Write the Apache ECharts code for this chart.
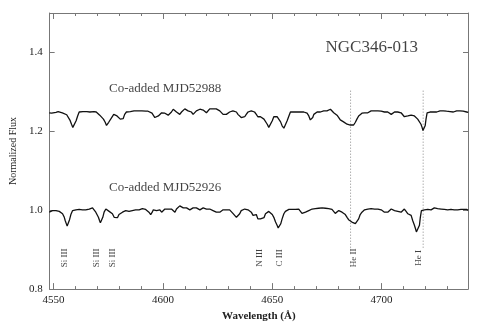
<!DOCTYPE html>
<html>
<head>
<meta charset="utf-8">
<script src="https://cdn.jsdelivr.net/npm/echarts@6/dist/echarts.min.js"></script>
<style>
  html, body { margin: 0; padding: 0; background: #fff; }
  #chart { width: 491px; height: 327px; }
</style>
</head>
<body>
<div id="chart"></div>
<script>
// spectrum: [wavelength (A), normalized flux]
var topSpectrum = [
  [4548.0,1.247],[4549.1,1.246],[4550.0,1.247],[4551.1,1.248],[4552.1,1.250],[4553.0,1.253],[4554.0,1.247],
  [4554.9,1.245],[4556.0,1.242],[4556.8,1.237],[4557.6,1.227],[4558.2,1.218],[4558.8,1.210],[4559.3,1.208],
  [4559.7,1.214],[4560.3,1.227],[4561.0,1.239],[4561.7,1.249],[4562.5,1.252],[4563.4,1.250],[4564.3,1.252],
  [4565.2,1.250],[4565.8,1.253],[4566.6,1.249],[4567.5,1.251],[4568.5,1.250],[4569.5,1.249],[4570.2,1.245],
  [4571.1,1.241],[4572.0,1.236],[4572.8,1.231],[4573.6,1.223],[4574.2,1.215],[4574.6,1.216],[4575.2,1.223],
  [4576.0,1.228],[4576.7,1.236],[4577.5,1.243],[4578.3,1.243],[4579.0,1.239],[4579.8,1.237],[4580.5,1.231],
  [4581.2,1.227],[4581.8,1.232],[4582.5,1.243],[4583.3,1.249],[4584.2,1.252],[4585.1,1.250],[4585.9,1.254],
  [4586.8,1.252],[4587.7,1.253],[4588.6,1.252],[4589.5,1.254],[4590.4,1.252],[4591.3,1.252],[4592.2,1.251],
  [4593.2,1.251],[4594.1,1.249],[4595.0,1.246],
  [4595.6,1.241],[4596.3,1.235],[4597.1,1.233],[4597.9,1.239],[4598.6,1.243],[4599.4,1.247],[4600.1,1.243],
  [4600.9,1.246],[4601.7,1.242],[4602.4,1.241],[4603.2,1.246],[4603.9,1.249],[4604.7,1.256],[4605.5,1.252],
  [4606.2,1.249],[4607.0,1.247],[4607.7,1.243],[4608.5,1.249],[4609.3,1.252],[4610.0,1.257],[4610.8,1.254],
  [4611.5,1.252],[4612.3,1.254],[4613.0,1.249],[4613.8,1.243],[4614.6,1.247],[4615.3,1.252],[4616.1,1.249],
  [4616.9,1.256],[4617.6,1.257],[4618.4,1.254],[4619.1,1.252],[4619.9,1.247],[4620.6,1.252],[4621.4,1.257],
  [4622.2,1.254],[4622.9,1.257],[4623.7,1.256],[4624.4,1.257],[4625.2,1.254],[4626.0,1.252],[4626.7,1.247],
  [4627.5,1.243],[4628.2,1.239],[4629.0,1.243],[4629.8,1.247],[4630.5,1.249],[4631.3,1.247],[4632.0,1.252],
  [4632.8,1.254],[4633.6,1.249],[4634.3,1.243],[4635.1,1.239],[4635.8,1.235],[4636.6,1.231],[4637.4,1.237],
  [4638.1,1.243],[4638.9,1.249],[4639.6,1.254],[4640.4,1.252],[4641.2,1.247],[4641.9,1.249],[4642.7,1.243],
  [4643.4,1.237],[4644.2,1.235],
  [4644.6,1.237],[4645.4,1.235],[4646.2,1.231],[4646.9,1.227],[4647.7,1.218],[4648.4,1.210],[4649.2,1.214],
  [4650.0,1.227],[4650.7,1.237],[4651.5,1.241],[4652.2,1.237],[4653.0,1.232],[4653.8,1.224],[4654.5,1.214],
  [4655.3,1.208],[4656.0,1.213],[4656.8,1.227],[4657.6,1.239],[4658.3,1.249],[4659.1,1.252],[4659.8,1.249],
  [4660.6,1.252],[4661.4,1.249],[4662.1,1.251],[4662.9,1.249],[4663.6,1.252],[4664.4,1.249],[4665.2,1.247],
  [4665.9,1.246],[4666.7,1.239],[4667.4,1.229],[4667.9,1.227],[4668.5,1.235],[4669.0,1.243],[4669.7,1.246],
  [4670.5,1.249],[4671.2,1.252],[4672.0,1.249],[4672.8,1.252],[4673.5,1.252],[4674.3,1.249],[4675.0,1.252],
  [4675.8,1.254],[4676.6,1.256],[4677.3,1.252],[4678.1,1.247],[4678.8,1.243],[4679.6,1.241],[4680.4,1.235],
  [4681.1,1.229],[4681.9,1.224],[4682.6,1.224],[4683.4,1.223],[4684.2,1.218],[4684.9,1.214],[4685.7,1.216],
  [4686.4,1.213],[4687.2,1.216],[4688.0,1.223],[4688.7,1.231],[4689.5,1.239],[4690.2,1.243],[4691.0,1.246],
  [4691.8,1.243],
  [4692.2,1.247],[4693.0,1.249],[4693.7,1.247],[4694.5,1.251],[4695.2,1.252],[4696.0,1.249],[4696.8,1.252],
  [4697.5,1.249],[4698.3,1.252],[4699.0,1.249],[4699.8,1.251],[4700.6,1.247],[4701.3,1.249],[4702.1,1.246],
  [4702.8,1.249],[4703.6,1.247],[4704.4,1.243],[4705.1,1.246],[4705.9,1.249],[4706.6,1.247],[4707.4,1.249],
  [4708.2,1.246],[4708.9,1.247],[4709.7,1.243],[4710.4,1.237],[4711.2,1.235],[4712.0,1.239],[4712.7,1.237],
  [4713.5,1.241],[4714.2,1.237],[4715.0,1.239],[4715.8,1.235],[4716.5,1.231],[4717.3,1.227],[4718.0,1.218],
  [4718.5,1.210],[4718.9,1.202],[4719.4,1.206],[4719.9,1.214],[4720.3,1.231],[4720.8,1.247],[4721.4,1.252],
  [4722.1,1.249],[4722.9,1.251],[4723.7,1.249],[4724.4,1.252],[4725.2,1.249],[4725.9,1.250],[4726.7,1.252],
  [4727.5,1.256],[4728.2,1.252],[4729.0,1.253],[4729.7,1.251],[4730.5,1.252],[4731.3,1.250],[4732.0,1.252],
  [4732.8,1.249],[4733.5,1.251],[4734.3,1.252],[4735.1,1.249],[4735.8,1.252],[4736.6,1.250],[4737.3,1.251],
  [4738.1,1.247],[4738.9,1.249],[4739.6,1.248]
];

var bottomSpectrum = [
  [4548.0,0.995],[4548.8,0.997],[4549.5,0.999],[4550.3,0.995],[4551.1,0.999],[4551.8,1.001],[4552.6,0.997],
  [4553.3,0.995],[4554.1,0.991],[4554.9,0.982],[4555.3,0.974],[4555.8,0.966],[4556.2,0.960],[4556.7,0.964],
  [4557.3,0.976],[4557.9,0.989],[4558.7,0.999],[4559.4,1.003],[4560.2,1.001],[4561.0,1.003],[4561.7,1.002],
  [4562.5,1.003],[4563.2,1.001],[4564.0,1.002],[4564.7,1.001],[4565.5,1.002],[4566.3,1.003],[4567.0,1.001],
  [4567.8,1.006],[4568.5,1.001],[4569.3,0.995],[4570.1,0.991],[4570.5,0.982],[4571.0,0.974],[4571.4,0.968],
  [4571.9,0.972],[4572.5,0.982],[4573.1,0.995],[4573.9,1.003],[4574.6,1.001],[4575.4,0.997],[4576.1,0.999],
  [4576.9,0.991],[4577.7,0.982],[4578.4,0.978],[4579.2,0.981],[4579.9,0.989],[4580.7,0.992],[4581.5,0.995],
  [4582.2,0.997],[4583.0,0.999],[4583.7,1.001],[4584.5,0.997],[4585.3,1.001],[4586.0,0.999],[4586.8,1.002],
  [4587.5,1.001],[4588.3,1.003],[4589.1,1.001],[4589.8,1.002],[4590.6,1.004],[4591.3,1.001],[4592.1,1.002],
  [4592.9,0.999],[4593.6,0.995],[4594.4,0.989],[4595.1,0.995],
  [4595.6,1.001],[4596.3,1.003],[4597.1,0.999],[4597.9,1.003],[4598.6,1.001],[4599.4,0.995],[4600.1,0.999],
  [4600.9,1.003],[4601.7,1.007],[4602.4,1.003],[4603.2,1.001],[4603.9,1.003],[4604.7,0.999],[4605.5,0.995],
  [4606.2,1.003],[4607.0,1.007],[4607.7,1.011],[4608.5,1.009],[4609.3,1.006],[4610.0,1.003],[4610.8,1.006],
  [4611.5,1.003],[4612.3,1.001],[4613.0,1.003],[4613.8,1.006],[4614.6,1.009],[4615.3,1.006],[4616.1,1.003],
  [4616.9,1.001],[4617.6,1.003],[4618.4,1.006],[4619.1,1.007],[4619.9,1.003],[4620.6,1.001],[4621.4,1.003],
  [4622.2,1.001],[4622.9,0.999],[4623.7,0.997],[4624.4,0.995],[4625.2,0.992],[4626.0,0.995],[4626.7,0.999],
  [4627.5,1.001],[4628.2,1.003],[4629.0,1.001],[4629.8,0.999],[4630.5,1.001],[4631.3,0.997],[4632.0,0.992],
  [4632.8,0.987],[4633.6,0.982],[4634.3,0.984],[4635.1,0.991],[4635.8,0.999],[4636.6,1.001],[4637.4,1.003],
  [4638.1,0.999],[4638.9,1.001],[4639.6,0.999],[4640.4,0.995],[4641.2,0.987],[4641.9,0.982],[4642.7,0.989],
  [4643.4,0.978],[4644.2,0.974],
  [4644.6,0.978],[4645.4,0.974],[4646.2,0.981],[4646.9,0.991],[4647.7,0.995],[4648.4,0.997],[4649.2,0.992],
  [4650.0,0.989],[4650.7,0.982],[4651.5,0.970],[4652.2,0.962],[4652.7,0.955],[4653.3,0.959],[4653.9,0.966],
  [4654.5,0.978],[4655.3,0.991],[4656.0,0.997],[4656.8,1.001],[4657.6,1.002],[4658.3,1.001],[4659.1,1.002],
  [4659.8,1.001],[4660.6,1.002],[4661.4,1.002],[4662.1,1.003],[4662.9,1.001],[4663.6,0.992],[4664.4,0.989],
  [4665.2,0.995],[4665.9,0.997],[4666.7,0.999],[4667.4,1.001],[4668.2,1.003],[4669.0,1.006],[4669.7,1.004],
  [4670.5,1.007],[4671.2,1.005],[4672.0,1.004],[4672.8,1.006],[4673.5,1.003],[4674.3,1.005],[4675.0,1.006],
  [4675.8,1.004],[4676.6,1.003],[4677.3,1.002],[4678.1,0.997],[4678.8,0.992],[4679.6,0.997],[4680.4,0.999],
  [4681.1,0.997],[4681.9,0.995],[4682.6,0.992],[4683.4,0.989],[4684.2,0.982],[4684.9,0.976],[4685.7,0.972],
  [4686.4,0.970],[4687.2,0.968],[4688.0,0.966],[4688.7,0.970],[4689.5,0.978],[4690.2,0.989],[4691.0,0.995],
  [4691.8,0.999],
  [4692.2,1.001],[4693.0,1.002],[4693.7,1.003],[4694.5,1.002],[4695.2,1.004],[4696.0,1.006],[4696.8,1.003],
  [4697.5,1.001],[4698.3,1.003],[4699.0,0.999],[4699.8,1.001],[4700.6,0.997],[4701.3,0.995],[4702.1,0.991],
  [4702.8,0.995],[4703.6,0.999],[4704.4,1.003],[4705.1,1.001],[4705.9,0.999],[4706.6,1.003],[4707.4,0.997],
  [4708.2,0.992],[4708.9,0.995],[4709.7,0.999],[4710.4,1.003],[4711.2,0.997],[4712.0,0.991],[4712.7,0.995],
  [4713.5,0.987],[4714.2,0.974],[4715.0,0.962],[4715.5,0.953],[4715.9,0.945],[4716.4,0.943],[4716.8,0.948],
  [4717.3,0.962],[4717.7,0.982],[4718.2,0.999],[4718.8,1.003],[4719.6,1.001],[4720.3,1.003],[4721.1,1.002],
  [4721.8,1.004],[4722.6,1.001],[4723.4,1.003],[4724.1,1.006],[4724.9,1.002],[4725.6,1.004],[4726.4,1.002],
  [4727.2,1.003],[4727.9,1.005],[4728.7,1.002],[4729.4,1.003],[4730.2,1.001],[4730.9,1.004],[4731.7,1.002],
  [4732.5,1.003],[4733.2,1.001],[4734.0,1.002],[4734.8,1.001],[4735.5,1.003],[4736.3,1.002],[4737.0,1.001],
  [4737.8,1.002],[4738.5,0.999],[4738.9,1.002],[4739.6,1.000]
];

// line identifications (vertical labels under the lower spectrum)
var lineNames = ['Si III', 'Si III', 'Si III', 'N III', 'C III', 'He II', 'He I'];
var lineWaves = [4554.9, 4569.6, 4576.9, 4644.0, 4653.5, 4687.2, 4716.8];
var lineLabelFlux = 0.879;

// dotted markers through both spectra
var markWaves = [4685.8, 4719.0];
var markRange = [0.905, 1.305];

// text annotations
var notes = [
  { text: 'Co-added MJD52988', x: 4601, y: 1.309, size: 13 },
  { text: 'Co-added MJD52926', x: 4601, y: 1.058, size: 13 },
  { text: 'NGC346-013', x: 4695.5, y: 1.412, size: 17 }
];

var xMajor = [4550, 4600, 4650, 4700];
var xMinor = [4560, 4570, 4580, 4590, 4610, 4620, 4630, 4640, 4660, 4670, 4680, 4690, 4710, 4720, 4730];
var yMajor = [0.8, 1.0, 1.2, 1.4];

var FONT = 'Liberation Serif';
var AXIS_COLOR = '#777';

var chart = echarts.init(document.getElementById('chart'), null, { renderer: 'canvas' });

function xAxisDef(pos, ticks, len, showLine, showLabel) {
  return {
    type: 'value', gridIndex: 0, position: pos,
    min: 4548.2, max: 4739.5,
    axisLine: { show: showLine, onZero: false, lineStyle: { color: AXIS_COLOR, width: 1 } },
    axisTick: { show: true, inside: true, length: len, customValues: ticks, lineStyle: { color: AXIS_COLOR } },
    axisLabel: showLabel ? {
      show: true, customValues: ticks, fontFamily: FONT, fontSize: 11, color: '#222', margin: 6,
      formatter: function (v) { return String(Math.round(v)); }
    } : { show: false },
    splitLine: { show: false }
  };
}

function yAxisDef(pos, showLabel) {
  return {
    type: 'value', gridIndex: 0, position: pos,
    min: 0.8, max: 1.5,
    axisLine: { show: true, onZero: false, lineStyle: { color: AXIS_COLOR, width: 1 } },
    axisTick: { show: true, inside: true, length: 5, customValues: yMajor, lineStyle: { color: AXIS_COLOR } },
    axisLabel: showLabel ? {
      show: true, customValues: yMajor, fontFamily: FONT, fontSize: 11, color: '#222', margin: 7,
      formatter: function (v) { return v.toFixed(1); }
    } : { show: false },
    splitLine: { show: false }
  };
}

var xAxes = [
  xAxisDef('bottom', xMajor, 6, true, true),
  xAxisDef('bottom', xMinor, 3, false, false),
  xAxisDef('top', xMajor, 6, true, false),
  xAxisDef('top', xMinor, 3, false, false)
];
xAxes[0].name = 'Wavelength (Å)';
xAxes[0].nameLocation = 'middle';
xAxes[0].nameGap = 21;
xAxes[0].nameTextStyle = { fontFamily: FONT, fontSize: 11, fontWeight: 'bold', color: '#222' };

var yAxes = [yAxisDef('left', true), yAxisDef('right', false)];
yAxes[0].name = 'Normalized Flux';
yAxes[0].nameLocation = 'middle';
yAxes[0].nameGap = 29;
yAxes[0].nameTextStyle = { fontFamily: FONT, fontSize: 10, color: '#222' };

var series = [
  {
    type: 'line', name: 'MJD52988', data: topSpectrum, showSymbol: false, symbol: 'none',
    lineStyle: { color: '#111', width: 1.3 }, animation: false
  },
  {
    type: 'line', name: 'MJD52926', data: bottomSpectrum, showSymbol: false, symbol: 'none',
    lineStyle: { color: '#111', width: 1.3 }, animation: false
  }
];

markWaves.forEach(function (w) {
  series.push({
    type: 'line', data: [[w, markRange[0]], [w, markRange[1]]], symbol: 'none',
    lineStyle: { color: '#888', width: 1, type: [1, 2] }, animation: false, z: 1
  });
});

series.push({
  type: 'scatter', symbolSize: 0, animation: false, silent: true,
  data: lineNames.map(function (n, i) { return { value: [lineWaves[i], lineLabelFlux], name: n }; }),
  label: {
    show: true, position: 'inside', rotate: 90, formatter: '{b}',
    fontFamily: FONT, fontSize: 9, color: '#111'
  }
});

notes.forEach(function (t) {
  series.push({
    type: 'scatter', symbolSize: 0, animation: false, silent: true,
    data: [{ value: [t.x, t.y], name: t.text }],
    label: {
      show: true, position: 'inside', formatter: '{b}',
      fontFamily: FONT, fontSize: t.size, color: '#111'
    }
  });
});

var option = {
  backgroundColor: '#fff',
  animation: false,
  grid: { left: 48, right: 23, top: 13, bottom: 33, containLabel: false },
  xAxis: xAxes,
  yAxis: yAxes,
  series: series
};

chart.setOption(option);
</script>
</body>
</html>
